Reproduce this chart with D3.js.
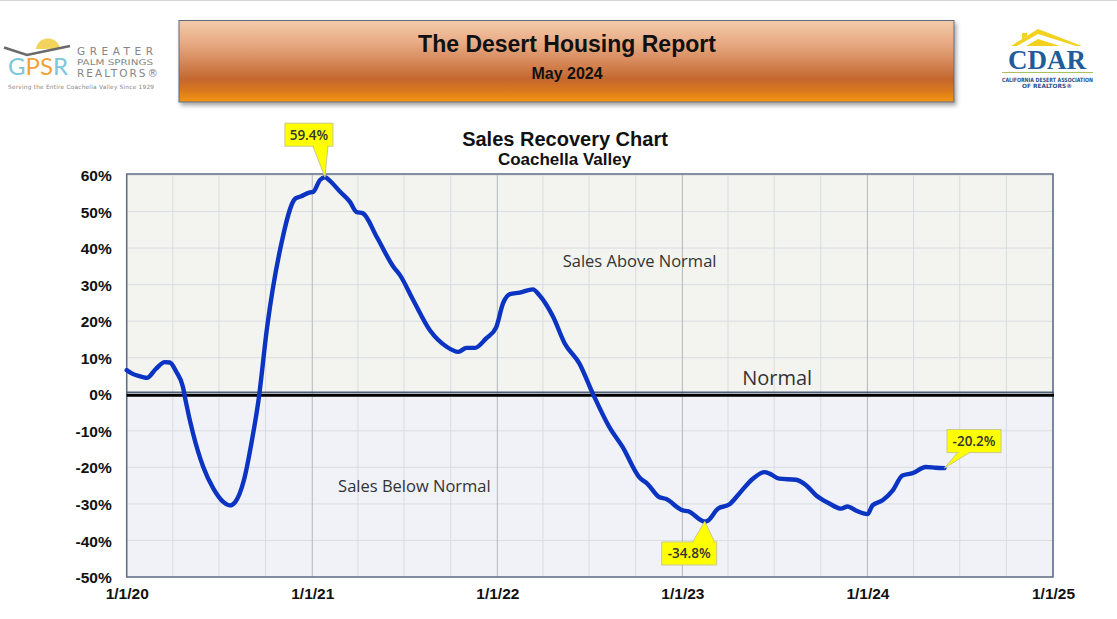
<!DOCTYPE html>
<html><head><meta charset="utf-8">
<script src="https://cdn.jsdelivr.net/npm/d3@7/dist/d3.min.js"></script>
<style>
body{margin:0;background:#fff;}
svg{display:block;}
</style></head>
<body>
<svg id="c" width="1117" height="619"></svg>
<script>
// ---------- DATA ----------
const dates = ["2020-01-01","2020-01-11","2020-02-02","2020-02-10","2020-02-28","2020-03-16","2020-03-26","2020-04-08","2020-04-21","2020-04-26","2020-05-11","2020-05-31","2020-06-20","2020-07-10","2020-07-23","2020-08-02","2020-08-19","2020-09-04","2020-09-17","2020-10-04","2020-10-30","2020-11-29","2020-12-09","2020-12-26","2021-01-03","2021-01-16","2021-01-26","2021-02-05","2021-02-25","2021-03-16","2021-03-29","2021-04-11","2021-05-08","2021-06-10","2021-06-23","2021-07-19","2021-08-21","2021-09-23","2021-10-16","2021-11-01","2021-11-18","2021-12-10","2021-12-30","2022-01-12","2022-01-26","2022-02-14","2022-03-12","2022-03-25","2022-04-21","2022-05-14","2022-06-12","2022-07-08","2022-08-10","2022-09-05","2022-10-08","2022-10-24","2022-11-16","2022-11-29","2023-01-02","2023-01-12","2023-02-14","2023-02-20","2023-03-12","2023-04-04","2023-04-23","2023-05-20","2023-06-12","2023-06-22","2023-07-11","2023-08-13","2023-09-02","2023-09-22","2023-10-18","2023-11-10","2023-11-23","2023-12-09","2024-01-01","2024-01-11","2024-01-31","2024-02-20","2024-03-10","2024-03-30","2024-04-25","2024-05-15","2024-06-01"];
const values = [6.6,5.7,4.7,4.5,7.0,8.8,8.7,6.1,2.0,-1.6,-10.8,-19.9,-25.8,-29.5,-30.4,-29.5,-23.6,-12.6,-1.6,18.4,39.9,53.6,54.1,55.2,55.4,58.6,59.4,58.4,55.4,52.7,49.9,49.5,43.1,34.9,32.6,25.8,17.5,13.0,11.6,12.7,12.7,15.3,18.4,24.8,27.4,27.8,28.7,27.1,21.2,13.9,8.4,0.3,-9.0,-14.4,-22.7,-24.5,-28.1,-28.6,-31.8,-32.0,-34.8,-34.6,-31.3,-30.1,-27.2,-23.1,-21.3,-21.7,-23.1,-23.4,-24.9,-27.7,-29.9,-31.3,-30.7,-31.8,-32.8,-30.4,-29.0,-26.3,-22.2,-21.6,-19.9,-20.1,-20.2];
const yTicks = [-50,-40,-30,-20,-10,0,10,20,30,40,50,60];
const xTickDates = ["2020-01-01","2021-01-01","2022-01-01","2023-01-01","2024-01-01","2025-01-01"];
const calloutDates = ["2021-01-26","2023-02-14","2024-06-01"];
const calloutLabels = ["59.4%","-34.8%","-20.2%"];
const zoneLabels = ["Sales Above Normal","Sales Below Normal","Normal"];
const zoneValues = [36.5, -25.1, 4.4];
const zoneDates = ["2022-05-10","2021-02-21","2023-04-29"];

// ---------- SETUP ----------
const parse = d3.timeParse("%Y-%m-%d");
const data = dates.map((d,i)=>({date:parse(d), v:values[i]}));
const svg = d3.select("#c");
const L=126.7, R=1053, T=175, B=577;
const x = d3.scaleTime().domain([parse("2020-01-01"), parse("2025-01-01")]).range([L,R]);
const y = d3.scaleLinear().domain([-50,60]).range([B,T]);
const SANS = "'Liberation Sans', Arial, sans-serif";
const CAL = "'Open Sans', Carlito, Lato, sans-serif";

const defs = svg.append("defs");
const g1 = defs.append("linearGradient").attr("id","hdr").attr("x1",0).attr("y1",0).attr("x2",0).attr("y2",1);
[[0,"#f4cbab"],[0.3,"#e6a780"],[0.72,"#c4672f"],[0.86,"#d9781c"],[1,"#f39612"]].forEach(s=>g1.append("stop").attr("offset",s[0]).attr("stop-color",s[1]));
const f = defs.append("filter").attr("id","sh").attr("x","-5%").attr("y","-20%").attr("width","115%").attr("height","150%");
f.append("feDropShadow").attr("dx",2).attr("dy",3).attr("stdDeviation",2).attr("flood-color","#000").attr("flood-opacity",0.35);
defs.append("clipPath").attr("id","sunclip").append("rect").attr("x",0).attr("y",30).attr("width",120).attr("height",19);

// top border line
svg.append("line").attr("x1",0).attr("x2",1117).attr("y1",0.5).attr("y2",0.5).attr("stroke","#d4d4d4").attr("stroke-width",1);

// ---------- HEADER ----------
svg.append("rect").attr("x",179).attr("y",20.5).attr("width",775).attr("height",81.5)
  .attr("fill","url(#hdr)").attr("stroke","#5f6b80").attr("stroke-width",1).attr("filter","url(#sh)");
svg.append("text").attr("x",567).attr("y",52).attr("text-anchor","middle").attr("font-family",SANS)
  .attr("font-weight","bold").attr("font-size",23).attr("fill","#111").text("The Desert Housing Report");
svg.append("text").attr("x",567).attr("y",78.5).attr("text-anchor","middle").attr("font-family",SANS)
  .attr("font-weight","bold").attr("font-size",16).attr("fill","#111").text("May 2024");

// ---------- GPSR LOGO ----------
const lg = svg.append("g");
const LOGOF = "'DejaVu Sans', sans-serif";
lg.append("circle").attr("cx",48).attr("cy",51).attr("r",12.5).attr("fill","#f2d45c").attr("clip-path","url(#sunclip)");
lg.append("polyline").attr("points","4,47.5 27,55 70,46").attr("fill","none").attr("stroke","#6a6a6a").attr("stroke-width",2.5);
const gt = lg.append("text").attr("x",8).attr("y",75).attr("font-family","Lato, 'Open Sans', sans-serif").attr("font-size",24)
  .attr("textLength",60).attr("lengthAdjust","spacingAndGlyphs");
[["G","#7cc6da"],["P","#f0a238"],["S","#f0a238"],["R","#7cc6da"]].forEach(t=>gt.append("tspan").attr("fill",t[1]).text(t[0]));
lg.append("text").attr("x",77).attr("y",55).attr("font-family",LOGOF).attr("font-size",10.5).attr("textLength",76).attr("lengthAdjust","spacing").attr("fill","#858585").text("GREATER");
lg.append("text").attr("x",77).attr("y",65).attr("font-family",LOGOF).attr("font-size",7.8).attr("textLength",76).attr("lengthAdjust","spacingAndGlyphs").attr("fill","#858585").text("PALM SPRINGS");
lg.append("text").attr("x",77).attr("y",76.5).attr("font-family",LOGOF).attr("font-size",10.5).attr("textLength",81).attr("lengthAdjust","spacing").attr("fill","#858585").text("REALTORS®");
lg.append("text").attr("x",8).attr("y",88.5).attr("font-family",LOGOF).attr("font-size",5.8).attr("textLength",146).attr("lengthAdjust","spacing").attr("fill","#888").text("Serving the Entire Coachella Valley Since 1929");

// ---------- CDAR LOGO ----------
const cg = svg.append("g");
cg.append("path").attr("d","M1011,46 L1038,29 L1082,46 L1076,46 L1038,34 L1017,46 Z").attr("fill","#f2d21e");
cg.append("path").attr("d","M1022,39 L1022,33 L1027,33 L1027,36 Z").attr("fill","#f2d21e");
cg.append("path").attr("d","M1026,46 L1038,39 L1060,46 Z").attr("fill","#f2d21e");
cg.append("text").attr("x",1047).attr("y",69).attr("text-anchor","middle").attr("font-family","'Liberation Serif', 'DejaVu Serif', serif")
  .attr("font-weight","bold").attr("font-size",27).attr("fill","#1f5c9c").text("CDAR");
cg.append("line").attr("x1",1002).attr("x2",1093).attr("y1",72.5).attr("y2",72.5).attr("stroke","#a9c25e").attr("stroke-width",1);
cg.append("text").attr("x",1002).attr("y",82).attr("font-family",LOGOF).attr("textLength",91).attr("lengthAdjust","spacingAndGlyphs")
  .attr("font-weight","bold").attr("font-size",5.8).attr("fill","#1f4f8a").text("CALIFORNIA DESERT ASSOCIATION");
cg.append("text").attr("x",1047).attr("y",88).attr("text-anchor","middle").attr("font-family",LOGOF)
  .attr("font-weight","bold").attr("font-size",5.8).attr("fill","#1f4f8a").text("OF REALTORS®");

// ---------- CHART TITLE ----------
svg.append("text").attr("x",565).attr("y",146).attr("text-anchor","middle").attr("font-family",SANS)
  .attr("font-weight","bold").attr("font-size",20).attr("fill","#111").text("Sales Recovery Chart");
svg.append("text").attr("x",564.5).attr("y",165).attr("text-anchor","middle").attr("font-family",SANS)
  .attr("font-weight","bold").attr("font-size",17).attr("fill","#111").text("Coachella Valley");

// ---------- PLOT BACKGROUND ----------
svg.append("rect").attr("x",L).attr("y",T).attr("width",R-L).attr("height",y(0)-T).attr("fill","#f3f4f0");
svg.append("rect").attr("x",L).attr("y",y(0)).attr("width",R-L).attr("height",B-y(0)).attr("fill","#f0f2f7");

// gridlines
const grid = svg.append("g");
grid.selectAll("line.h").data(yTicks).join("line").attr("class","h")
  .attr("x1",L).attr("x2",R).attr("y1",d=>y(d)).attr("y2",d=>y(d)).attr("stroke","#d9dce0").attr("stroke-width",1);
const quarters = d3.timeMonth.every(3).range(parse("2020-01-01"), parse("2025-01-02"));
grid.selectAll("line.v").data(quarters).join("line").attr("class","v")
  .attr("x1",d=>x(d)).attr("x2",d=>x(d)).attr("y1",T).attr("y2",B)
  .attr("stroke",d=>d.getMonth()===0?"#b4b7bb":"#d9dce0").attr("stroke-width",1);

// plot border
svg.append("rect").attr("x",L).attr("y",T-1).attr("width",R-L).attr("height",B-T+1).attr("fill","none").attr("stroke","#5c6d88").attr("stroke-width",1.5);

// normal line
svg.append("line").attr("x1",L).attr("x2",R+1).attr("y1",y(0)-2).attr("y2",y(0)-2).attr("stroke","#4d5d7a").attr("stroke-width",1.5);
svg.append("line").attr("x1",L).attr("x2",R+1).attr("y1",y(0)+1).attr("y2",y(0)+1).attr("stroke","#000").attr("stroke-width",3);

// zone labels
svg.selectAll("text.zone").data(zoneLabels).join("text").attr("class","zone")
  .attr("x",(d,i)=>x(parse(zoneDates[i]))).attr("y",(d,i)=>y(zoneValues[i])).attr("dy","0.36em")
  .attr("text-anchor","start").attr("font-family",CAL).attr("font-size",(d,i)=>i===2?20:16.5)
  .attr("fill","#333").text(d=>d);

// ---------- AXES ----------
const ya = svg.append("g").attr("transform",`translate(${L-15},0)`)
  .call(d3.axisLeft(y).tickValues(yTicks).tickSize(0).tickPadding(0).tickFormat(d=>d+"%"));
ya.select(".domain").remove();
ya.selectAll("text").attr("font-family",SANS).attr("font-weight","bold").attr("font-size",15.5).attr("fill","#111").attr("dy","0.36em");

const xa = svg.append("g").attr("transform",`translate(0,${B+16})`)
  .call(d3.axisBottom(x).tickValues(xTickDates.map(parse)).tickSize(0).tickPadding(0).tickFormat(d3.timeFormat("%-m/%-d/%y")));
xa.select(".domain").remove();
xa.selectAll("text").attr("font-family",SANS).attr("font-weight","bold").attr("font-size",15.5).attr("fill","#111").attr("dy","0.36em");

// ---------- LINE ----------
const line = d3.line().x(d=>x(d.date)).y(d=>y(d.v)).curve(d3.curveMonotoneX);
svg.append("path").datum(data).attr("d",line).attr("fill","none").attr("stroke","#0b34c2").attr("stroke-width",4.4)
  .attr("stroke-linejoin","round").attr("stroke-linecap","round");

// ---------- CALLOUTS ----------
// box offsets relative to anchor point: [bx, by, w, h, baseX1, baseX2, baseSide]
const calloutGeom = [
  [-40,-54,48,23,-12,3,"bottom"],
  [-43,20.5,55,23,-12,10,"top"],
  [2.5,-38.5,54,23,13,25,"bottom"]
];
calloutDates.forEach((dd,i)=>{
  const v = data.find(p=>+p.date===+parse(dd)).v;
  const px = x(parse(dd)), py = y(v);
  const [bx,by,w,h,b1,b2,side] = calloutGeom[i];
  const gx = svg.append("g");
  const baseY = side==="bottom" ? py+by+h : py+by;
  gx.append("path").attr("d",`M${px+b1},${baseY} L${px},${py} L${px+b2},${baseY}`).attr("fill","#ffff00").attr("stroke","#c9c98e").attr("stroke-width",1);
  gx.append("rect").attr("x",px+bx).attr("y",py+by).attr("width",w).attr("height",h).attr("fill","#ffff00").attr("stroke","#c9c98e").attr("stroke-width",1);
  gx.append("path").attr("d",`M${px+b1+1},${baseY} L${px+b2-1},${baseY}`).attr("stroke","#ffff00").attr("stroke-width",2);
  gx.append("text").attr("x",px+bx+w/2).attr("y",py+by+h/2).attr("dy","0.36em").attr("text-anchor","middle")
    .attr("font-family",CAL).attr("font-weight","600").attr("font-size",13.5).attr("fill","#333").text(calloutLabels[i]);
});
</script>
</body></html>
